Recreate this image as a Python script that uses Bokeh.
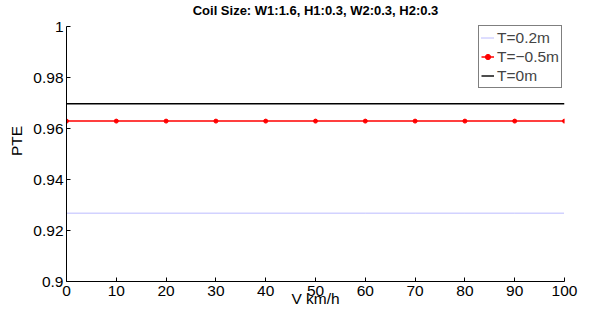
from bokeh.plotting import figure
from bokeh.models import FixedTicker, CustomJSTickFormatter, Legend, LegendItem, Range1d, Label
from bokeh.embed import file_html
from bokeh.resources import INLINE

# data
speed = [0, 10, 20, 30, 40, 50, 60, 70, 80, 90, 100]
pte_t02 = [0.9268] * 11
pte_tm05 = [0.9629] * 11
pte_t0 = [0.9697] * 11
x_ticks = [0, 10, 20, 30, 40, 50, 60, 70, 80, 90, 100]
y_ticks = [0.9, 0.92, 0.94, 0.96, 0.98, 1.0]
title_text = "Coil Size: W1:1.6, H1:0.3, W2:0.3, H2:0.3"
x_label = "V km/h"
y_label = "PTE"

FONT = "Liberation Sans"
FS = "15.5px"
W, H = 591, 312
BL, BR, BB = 66, 27, 31
FW, FH = W - BL - BR, H - BB          # frame spans from canvas top
AXIS_TOP_PX = 26                       # where y=1.0 sits (px from canvas top)
Y0, Y1 = 0.9, 1.0
y_top = Y1 + (Y1 - Y0) * AXIS_TOP_PX / (FH - AXIS_TOP_PX)

p = figure(width=W, height=H, output_backend="svg", toolbar_location=None, title=None,
           x_range=Range1d(0, 100), y_range=Range1d(Y0, y_top),
           min_border_left=BL, min_border_right=BR, min_border_top=0, min_border_bottom=BB)

p.outline_line_color = None
p.xgrid.visible = False
p.ygrid.visible = False

r1 = p.line(speed, pte_t02, line_color="#7878ff", line_width=1, line_dash="1 1")
r2 = p.line(speed, pte_tm05, line_color="#ff0000", line_width=1.5)
r2m = p.scatter(speed, pte_tm05, size=4, fill_color="#ff0000", line_color="#ff0000")
r3 = p.line(speed, pte_t0, line_color="#000000", line_width=1.4)

for ax in (p.xaxis[0], p.yaxis[0]):
    ax.major_tick_in = 4
    ax.major_tick_out = 0
    ax.minor_tick_in = 0
    ax.minor_tick_out = 0
    ax.axis_line_color = "#000000"
    ax.major_tick_line_color = "#000000"
    ax.major_label_text_font = FONT
    ax.major_label_text_font_size = FS
    ax.major_label_text_color = "#000000"
    ax.axis_label_text_font = FONT
    ax.axis_label_text_font_size = FS
    ax.axis_label_text_font_style = "normal"
    ax.axis_label_text_color = "#000000"

p.xaxis.ticker = FixedTicker(ticks=x_ticks)
p.yaxis.ticker = FixedTicker(ticks=y_ticks)
p.yaxis.bounds = (Y0, Y1)
p.yaxis.formatter = CustomJSTickFormatter(
    code="return tick.toFixed(2).replace(/0+$/,'').replace(/\\.$/,'');")
p.xaxis.axis_label = x_label
p.yaxis.axis_label = y_label
p.xaxis.major_label_standoff = 4
p.xaxis.axis_label_standoff = -9
p.yaxis.major_label_standoff = 3
p.yaxis.axis_label_standoff = 5

# chart title, drawn in the strip above y=1.0
p.add_layout(Label(x=FW / 2, y=FH - 9.5, x_units="screen", y_units="screen",
                   text=title_text, text_align="center", text_baseline="middle",
                   text_font=FONT, text_font_size="13px", text_font_style="bold",
                   text_color="#000000"))

legend = Legend(items=[
    LegendItem(label="T=0.2m", renderers=[r1]),
    LegendItem(label="T=\u22120.5m", renderers=[r2, r2m]),
    LegendItem(label="T=0m", renderers=[r3]),
], location=(FW - 86, FH - 88))
legend.label_text_font = FONT
legend.label_text_font_size = FS
legend.label_height = 19
legend.glyph_height = 19
legend.glyph_width = 13
legend.label_standoff = 3
legend.padding = 2
legend.spacing = 0
legend.margin = 0
legend.border_line_color = "#000000"
legend.border_line_width = 1
legend.background_fill_alpha = 1
p.add_layout(legend)

open("out.html", "w").write(file_html(p, INLINE))
